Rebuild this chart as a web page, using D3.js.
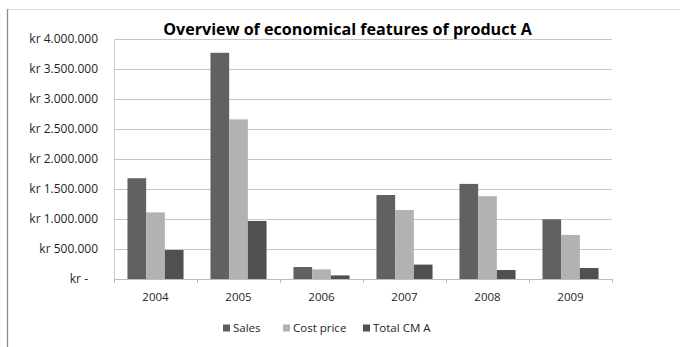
<!DOCTYPE html>
<html>
<head>
<meta charset="utf-8">
<script src="https://cdn.jsdelivr.net/npm/d3@7"></script>
<style>
  html, body { margin: 0; padding: 0; background: #fff; }
  svg { display: block; }
  text { font-family: "Open Sans", "Noto Sans", sans-serif; }
</style>
</head>
<body>
<svg id="chart" width="680" height="347"></svg>
<script>
const title = "Overview of economical features of product A";
const years = ["2004", "2005", "2006", "2007", "2008", "2009"];
const seriesNames = ["Sales", "Cost price", "Total CM A"];
const sales = [1680000, 3770000, 200000, 1400000, 1585000, 995000];
const costPrice = [1110000, 2660000, 160000, 1150000, 1380000, 735000];
const totalCM = [483000, 967000, 60000, 240000, 150000, 183000];
const yTicks = [0, 500000, 1000000, 1500000, 2000000, 2500000, 3000000, 3500000, 4000000];
const colors = ["#616161", "#b2b2b2", "#505050"];

const seriesValues = [sales, costPrice, totalCM];
const svg = d3.select("#chart");

// outer frame (chart area border)
svg.append("line").attr("x1", 8).attr("x2", 680).attr("y1", 9.5).attr("y2", 9.5)
  .attr("stroke", "#dcdcdc").attr("stroke-width", 1);
svg.append("line").attr("x1", 7.5).attr("x2", 7.5).attr("y1", 9).attr("y2", 347)
  .attr("stroke", "#8a8a8a").attr("stroke-width", 1.3);

const plot = { left: 114, right: 612, top: 39, bottom: 279 };

const y = d3.scaleLinear().domain([0, 4000000]).range([plot.bottom, plot.top]);
const x0 = d3.scaleBand().domain(years).range([plot.left, plot.right]).paddingInner(0).paddingOuter(0);
const x1 = d3.scaleBand().domain(seriesNames).range([0, x0.bandwidth()]).paddingInner(0).paddingOuter(0.72);

// gridlines
svg.append("g").selectAll("line").data(yTicks.filter(d => d > 0)).join("line")
  .attr("x1", plot.left).attr("x2", plot.right)
  .attr("y1", d => Math.round(y(d)) + 0.5).attr("y2", d => Math.round(y(d)) + 0.5)
  .attr("stroke", "#c6c6c6").attr("stroke-width", 1);

// vertical axis line
svg.append("line").attr("x1", plot.left + 0.5).attr("x2", plot.left + 0.5)
  .attr("y1", plot.top).attr("y2", plot.bottom)
  .attr("stroke", "#cfcfcf");

// y labels
const fmt = v => v === 0 ? "kr -" : "kr " + d3.format(",")(v).replace(/,/g, ".");
svg.append("g").selectAll("text").data(yTicks).join("text")
  .attr("x", d => d === 0 ? 88 : 98)
  .attr("y", d => y(d))
  .attr("dy", "0.35em")
  .attr("text-anchor", "end")
  .attr("font-size", 12)
  .attr("fill", "#1e1e1e")
  .text(fmt);

// bars
const groups = svg.append("g").selectAll("g").data(years).join("g")
  .attr("transform", d => `translate(${x0(d)},0)`);
groups.selectAll("rect")
  .data((d, i) => seriesNames.map((s, j) => ({ s, j, v: seriesValues[j][i] })))
  .join("rect")
  .attr("x", d => x1(d.s))
  .attr("width", x1.bandwidth())
  .attr("y", d => y(d.v))
  .attr("height", d => plot.bottom - y(d.v))
  .attr("fill", d => colors[d.j]);

// x axis baseline and ticks
svg.append("line").attr("x1", plot.left).attr("x2", plot.right + 1)
  .attr("y1", plot.bottom + 0.5).attr("y2", plot.bottom + 0.5).attr("stroke", "#bdbdbd");
const tickPos = years.map(d => x0(d)).concat([plot.right]);
svg.append("g").selectAll("line").data(tickPos).join("line")
  .attr("x1", d => d + 0.5).attr("x2", d => d + 0.5)
  .attr("y1", plot.bottom).attr("y2", plot.bottom + 4)
  .attr("stroke", "#bdbdbd");

svg.append("g").selectAll("text").data(years).join("text")
  .attr("x", d => x0(d) + x0.bandwidth() / 2)
  .attr("y", 297)
  .attr("dy", "0.35em")
  .attr("text-anchor", "middle")
  .attr("font-size", 11.5)
  .attr("fill", "#1e1e1e")
  .text(d => d);

// title
const t = svg.append("text")
  .attr("x", 347.5).attr("y", 35)
  .attr("text-anchor", "middle")
  .attr("font-weight", "bold")
  .attr("font-size", 16)
  .attr("fill", "#000")
  .text(title);
const tw = t.node().getComputedTextLength();
t.attr("font-size", 16 * 369 / tw);

// legend
const legendX = [223, 283, 363];
const legend = svg.append("g").selectAll("g").data(seriesNames).join("g")
  .attr("transform", (d, i) => `translate(${legendX[i]},328)`);
legend.append("rect").attr("x", 0).attr("y", -3.5).attr("width", 7).attr("height", 7)
  .attr("fill", (d, i) => colors[i]);
legend.append("text").attr("x", 10).attr("y", 0).attr("dy", "0.35em")
  .attr("font-size", 11.5).attr("fill", "#1e1e1e").text(d => d);
</script>
</body>
</html>
